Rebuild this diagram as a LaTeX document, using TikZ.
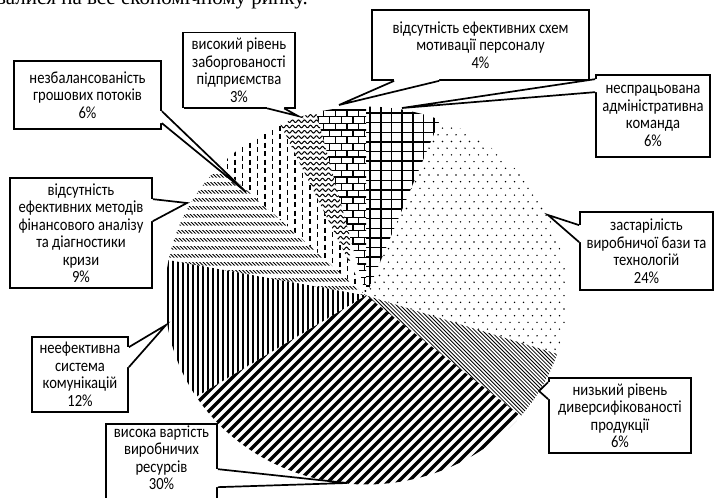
\documentclass[tikz,border=0pt]{standalone}
\usepackage{fontspec}
\setmainfont{Carlito}
\newfontfamily\lblfont{Carlito}[FakeStretch=0.86]
\newfontfamily\topserif{Liberation Serif}
\usetikzlibrary{calc,shadows}
\newcommand\mycallout[4]{%
  \fill[white] (#1) -- (#2) -- (#3) -- ($(#3)+#4$) -- ($(#1)+#4$) -- cycle;
  \draw[ptr] (#1) -- (#2) -- (#3);}
\begin{document}
\begin{tikzpicture}[x=1pt,y=-1pt,
  lbl/.style={draw=black, line width=1.7pt, fill=white, align=center, inner sep=0pt,
    drop shadow={shadow xshift=1.2pt, shadow yshift=-1.2pt, fill=black, opacity=1},
    font=\lblfont\fontsize{17}{17.5}\selectfont, text=black},
  ptr/.style={line width=1.7pt, line join=miter},
  pieslice/.style 2 args={insert path={(366,295.5) -- plot[domain=#1:#2,samples=60] ({366+201*sin(\x)},{295.5-189*cos(\x)}) -- cycle}}
]
\useasboundingbox (0,0) rectangle (715,498);
\clip (0,0) rectangle (715,498);
\fill[white] (0,0) rectangle (715,498);

% cut-off text line at the top
\node[anchor=base west, font=\topserif\fontsize{21}{25}\selectfont, inner sep=0pt] (toptext) at (-4,4) {валися на все економічному ринку.};

% grid slice (6%)
\begin{scope}
\clip[pieslice={0}{21.6}];
\foreach \i in {0,...,7} \draw[line width=1.8pt] (370+\i*10.7,100) -- (370+\i*10.7,300);
\foreach \j in {0,...,19} \draw[line width=1.4pt] (360,113+\j*9.6) -- (450,113+\j*9.6);
\end{scope}

% dotted slice (24%)
\begin{scope}
\clip[pieslice={21.6}{108}];
\foreach \j in {0,...,38} {
  \pgfmathsetmacro\off{mod(\j,2)*4.5}
  \foreach \i in {0,...,23} \fill (366+\i*9+\off,108+\j*6.7) circle (0.8);
}
\end{scope}

% fine downward diagonal (6%)
\begin{scope}
\clip[pieslice={108}{129.6}];
\foreach \k in {0,...,75} \draw[line width=0.8pt] (260+\k*3.8,260) -- ++(200,200);
\end{scope}

% thick upward diagonal (30%)
\begin{scope}
\clip[pieslice={129.6}{237.6}];
\foreach \c in {570,580,...,960} \draw[line width=3.2pt] (\c-500,500) -- (\c-270,270);
\end{scope}

% vertical lines (12%)
\begin{scope}
\clip[pieslice={237.6}{280.8}];
\foreach \vx in {163,168,...,373} \draw[line width=1.3pt] (\vx,250) -- (\vx,400);
\end{scope}

% dashed downward diagonal (9%)
\begin{scope}
\clip[pieslice={280.8}{313.2}];
\clip \foreach \j in {0,...,20} {(150,150+\j*8) rectangle ++(230,3.5)};
\foreach \k in {0,...,110} \draw[line width=0.9pt] (\k*3.5,150) -- ++(170,170);
\end{scope}

% vertical dashes (6%)
\begin{scope}
\clip[pieslice={313.2}{334.8}];
\foreach \i in {0,...,22} {
  \pgfmathsetmacro\ph{mod(\i,2)*4}
  \draw[line width=1.5pt, dash pattern=on 5pt off 3.5pt, dash phase=\ph] (205+\i*7.5,100) -- (205+\i*7.5,300);
}
\end{scope}

% waves (3%)
\begin{scope}
\clip[pieslice={334.8}{345.6}];
\foreach \j in {0,...,37} \draw[line width=1pt] plot[domain=0:80,samples=100] (270+\x,{100+\j*5.3+1.3*sin(60*\x)});
\end{scope}

% bricks (4%)
\begin{scope}
\clip[pieslice={345.6}{360}];
\foreach \k in {0,...,28} {
  \draw[line width=1.3pt] (300,110+\k*6.7) -- (375,110+\k*6.7);
  \pgfmathsetmacro\bo{mod(\k,2)*5.85}
  \foreach \i in {0,...,6} \draw[line width=1.3pt] (312+\i*11.7+\bo,110+\k*6.7) -- ++(0,6.7);
}
\end{scope}

% labels
\node[lbl, minimum width=217, minimum height=70] (A) at (480.5,45) {відсутність ефективних схем\\мотивації персоналу\\4\%};
\coordinate (A1) at ($(A.south west)+(23,0)$);
\coordinate (A2) at ($(A.south west)+(68,0)$);
\coordinate (At) at (339,105);
\mycallout{A1}{At}{A2}{(0,-3)}

\node[lbl, minimum width=112, minimum height=75] (B) at (239,70) {високий рівень\\заборгованості\\підприємства\\3\%};
\coordinate (B1) at ($(B.south west)+(85,0)$);
\coordinate (B2) at ($(B.south west)+(102,0)$);
\coordinate (Bt) at (298,116);
\mycallout{B1}{Bt}{B2}{(0,-3)}

\node[lbl, minimum width=147, minimum height=68] (C) at (87.5,95) {незбалансованість\\грошових потоків\\6\%};
\coordinate (C1) at ($(C.north east)+(0,51)$);
\coordinate (C2) at ($(C.north east)+(0,63)$);
\coordinate (Ct) at (246,192);
\mycallout{C1}{Ct}{C2}{(-3,0)}

\node[lbl, minimum width=142, minimum height=110] (D) at (81,233) {відсутність\\ефективних методів\\фінансового аналізу\\та діагностики\\кризи\\9\%};
\coordinate (D1) at ($(D.north east)+(0,22)$);
\coordinate (D2) at ($(D.north east)+(0,44)$);
\coordinate (Dt) at (187,203);
\mycallout{D1}{Dt}{D2}{(-3,0)}

\node[lbl, minimum width=114, minimum height=82] (E) at (653,116) {неспрацьована\\адміністративна\\команда\\6\%};
\coordinate (E1) at ($(E.north west)+(0,5)$);
\coordinate (E2) at ($(E.north west)+(0,18)$);
\coordinate (Et) at (402,108);
\mycallout{E1}{Et}{E2}{(3,0)}

\node[lbl, minimum width=133, minimum height=78] (F) at (646.5,251) {застарілість\\виробничої бази та\\технологій\\24\%};
\coordinate (F1) at ($(F.north west)+(0,14)$);
\coordinate (F2) at ($(F.north west)+(0,31)$);
\coordinate (Ft) at (548,215);
\mycallout{F1}{Ft}{F2}{(3,0)}

\node[lbl, minimum width=142, minimum height=75] (G) at (620,415.5) {низький рівень\\диверсифікованості\\продукції\\6\%};
\coordinate (G1) at ($(G.north west)+(0,5)$);
\coordinate (G2) at ($(G.north west)+(0,22)$);
\coordinate (Gt) at (539,391);
\mycallout{G1}{Gt}{G2}{(3,0)}

\node[lbl, minimum width=96, minimum height=75] (H) at (80,374.5) {неефективна\\система\\комунікацій\\12\%};
\coordinate (H1) at ($(H.north east)+(0,11)$);
\coordinate (H2) at ($(H.north east)+(0,31)$);
\coordinate (Ht) at (166,325);
\mycallout{H1}{Ht}{H2}{(-3,0)}

\node[lbl, minimum width=111, minimum height=83, text depth=0pt] (I) at (161.5,465.5) {висока вартість\\виробничих\\ресурсів\\30\%\\[-2pt]};
\coordinate (I1) at ($(I.north east)+(0,46)$);
\coordinate (I2) at ($(I.north east)+(0,64)$);
\coordinate (It) at (347,483);
\mycallout{I1}{It}{I2}{(-3,0)}
\end{tikzpicture}
\end{document}
